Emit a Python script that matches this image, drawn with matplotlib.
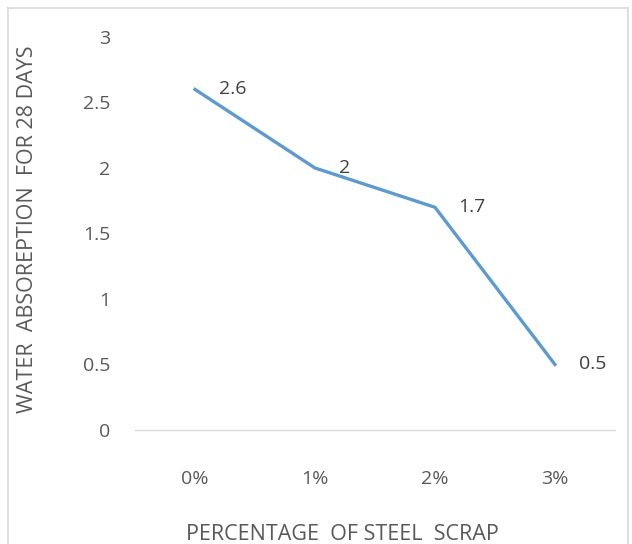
import numpy as np
import matplotlib
matplotlib.use('Agg')
from matplotlib import pyplot as plt
from matplotlib.lines import Line2D

categories = ['0%', '1%', '2%', '3%']
water_absorption = [2.6, 2.0, 1.7, 0.5]
data_labels = ['2.6', '2', '1.7', '0.5']
y_ticks = [0, 0.5, 1, 1.5, 2, 2.5, 3]
y_tick_labels = ['0', '0.5', '1', '1.5', '2', '2.5', '3']

plt.rcParams['font.family'] = ['Open Sans', 'DejaVu Sans']
text_col = '#595959'

fig = plt.figure(figsize=(6.32, 5.44), dpi=100)
ax = fig.add_axes([0.2136, 0.2096, 0.7594, 0.7224])

x = np.arange(len(categories))
ax.plot(x, water_absorption, color='#5B9BD5', linewidth=2.4, solid_joinstyle='round')

for xi, yi, lab in zip(x, water_absorption, data_labels):
    ax.annotate(lab, (xi, yi), xytext=(17, 0), textcoords='offset points',
                ha='left', va='center', fontsize=14, color='#404040')

ax.set_xlim(-0.5, len(categories) - 0.5)
ax.set_ylim(0, 3)
ax.set_xticks(x)
ax.set_xticklabels(categories)
ax.set_yticks(y_ticks)
ax.set_yticklabels(y_tick_labels)
ax.tick_params(axis='both', length=0, labelsize=14, labelcolor=text_col)
ax.tick_params(axis='x', pad=29)
ax.tick_params(axis='y', pad=18)

for side in ['top', 'right', 'left']:
    ax.spines[side].set_visible(False)
ax.spines['bottom'].set_color('#D9D9D9')
ax.spines['bottom'].set_linewidth(1.0)

xl = ax.set_xlabel('PERCENTAGE  OF STEEL  SCRAP', fontsize=15.5, color=text_col)
xl.set_va('center')
ax.xaxis.set_label_coords(0.432, -0.267)
yl = ax.set_ylabel('WATER  ABSOREPTION  FOR 28 DAYS', fontsize=15.5, color=text_col)
yl.set_va('center')
ax.yaxis.set_label_coords(-0.223, 0.51)

# light grey chart border
bc = '#D9D9D9'
fig.add_artist(Line2D([8/632, 8/632], [0, 1 - 8/544], color=bc, lw=1.2, transform=fig.transFigure))
fig.add_artist(Line2D([8/632, 628/632], [1 - 8/544, 1 - 8/544], color=bc, lw=1.2, transform=fig.transFigure))
fig.add_artist(Line2D([628/632, 628/632], [0, 1 - 8/544], color=bc, lw=1.2, transform=fig.transFigure))

plt.savefig('out.png', dpi=100)
